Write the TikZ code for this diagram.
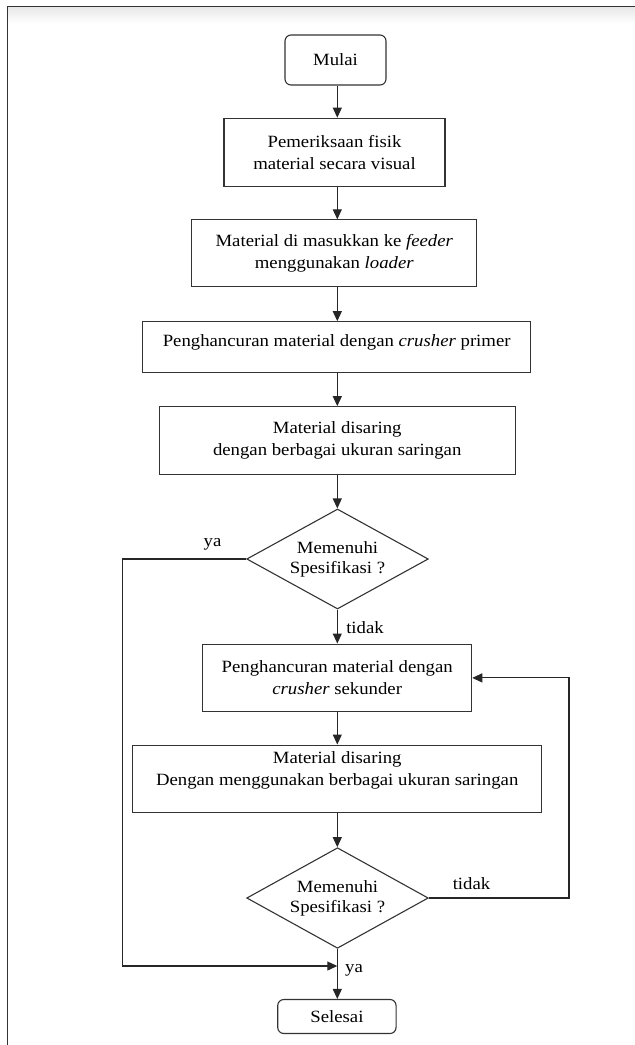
\documentclass[tikz,border=0pt]{standalone}
\usepackage{fontspec}
\setmainfont[FakeStretch=1.09]{Liberation Serif}
\usetikzlibrary{shapes.geometric,arrows.meta}
\begin{document}
\begin{tikzpicture}[x=1pt,y=-1pt,
  box/.style={draw=black!80, line width=1.1pt, align=center, inner sep=0pt, font=\fontsize{17.2}{22}\selectfont},
  term/.style={box, rounded corners=6pt},
  dec/.style={draw=black!80, line width=1.1pt, shape=diamond, aspect=1.816, align=center, inner sep=0pt, font=\fontsize{17.2}{20}\selectfont},
  txt/.style={align=center, inner sep=0pt, font=\fontsize{17.2}{22}\selectfont},
  arr/.style={draw=black!85, line width=1.1pt, -{Triangle[length=10pt,width=9pt]}},
  lbl/.style={font=\fontsize{17.2}{20}\selectfont, inner sep=0pt}]
\useasboundingbox (0,0) rectangle (635,1045);
% frame
\shade[top color=black!9, bottom color=white] (8,7) rectangle (636,24);
\draw[line width=1pt, black!80] (7.5,1050) -- (7.5,6.5) -- (640,6.5);

% nodes
\node[term, minimum width=101pt, minimum height=50pt] (mulai) at (335.5,60) {Mulai};
\node[box, minimum width=221pt, minimum height=68pt] (b1) at (334.5,152.2) {Pemeriksaan fisik\\material secara visual};
\node[box, minimum width=285pt, minimum height=67pt] (b2) at (334.3,253.4) {Material di masukkan ke \emph{feeder}\\menggunakan \emph{loader}};
\node[box, minimum width=388pt, minimum height=50.6pt] (b3) at (336.7,347) {};
\node[txt] (b3t) at (336.7,342.2) {Penghancuran material dengan \emph{crusher} primer};
\node[box, minimum width=355.7pt, minimum height=67.6pt] (b4) at (337.2,440.5) {Material disaring\\dengan berbagai ukuran saringan};
\node[dec, minimum width=181.6pt, minimum height=100pt] (d1) at (337.5,559) {Memenuhi\\Spesifikasi ?};
\node[box, minimum width=269pt, minimum height=67.7pt] (b5) at (337.2,677.9) {Penghancuran material dengan\\\emph{crusher} sekunder};
\node[box, minimum width=409pt, minimum height=67.7pt] (b6) at (337.2,778.9) {};
\node[txt] (b6t) at (337.2,770.2) {Material disaring\\Dengan menggunakan berbagai ukuran saringan};
\node[dec, minimum width=181.6pt, minimum height=100.6pt] (d2) at (337.5,898) {Memenuhi\\Spesifikasi ?};
\node[term, minimum width=118.3pt, minimum height=34pt] (sel) at (336.9,1016.5) {Selesai};

% labels
\node[lbl] (t1) at (365,627.5) {tidak};
\node[lbl] (ya1) at (212.5,544) {ya};
\node[lbl] (t2) at (471.5,883.5) {tidak};
\node[lbl] (ya2) at (354,970) {ya};

% helper coordinates
\coordinate (ax) at (337.3,0);
\coordinate (lx) at (122.7,0);
\coordinate (rx) at (569,0);
\coordinate (jn) at (337.3,966);

% connectors
\draw[arr] (ax |- mulai.south) -- (ax |- b1.north);
\draw[arr] (ax |- b1.south) -- (ax |- b2.north);
\draw[arr] (ax |- b2.south) -- (ax |- b3.north);
\draw[arr] (ax |- b3.south) -- (ax |- b4.north);
\draw[arr] (ax |- b4.south) -- (ax |- d1.north);
\draw[arr] (ax |- d1.south) -- (ax |- b5.north);
\draw[arr] (ax |- b5.south) -- (ax |- b6.north);
\draw[arr] (ax |- b6.south) -- (ax |- d2.north);
\draw[arr] (ax |- d2.south) -- (ax |- sel.north);
\draw[arr] (d1.west) -- (d1.west -| lx) |- (jn);
\draw[arr] (d2.east) -- (d2.east -| rx) |- (b5.east);
\end{tikzpicture}
\end{document}
